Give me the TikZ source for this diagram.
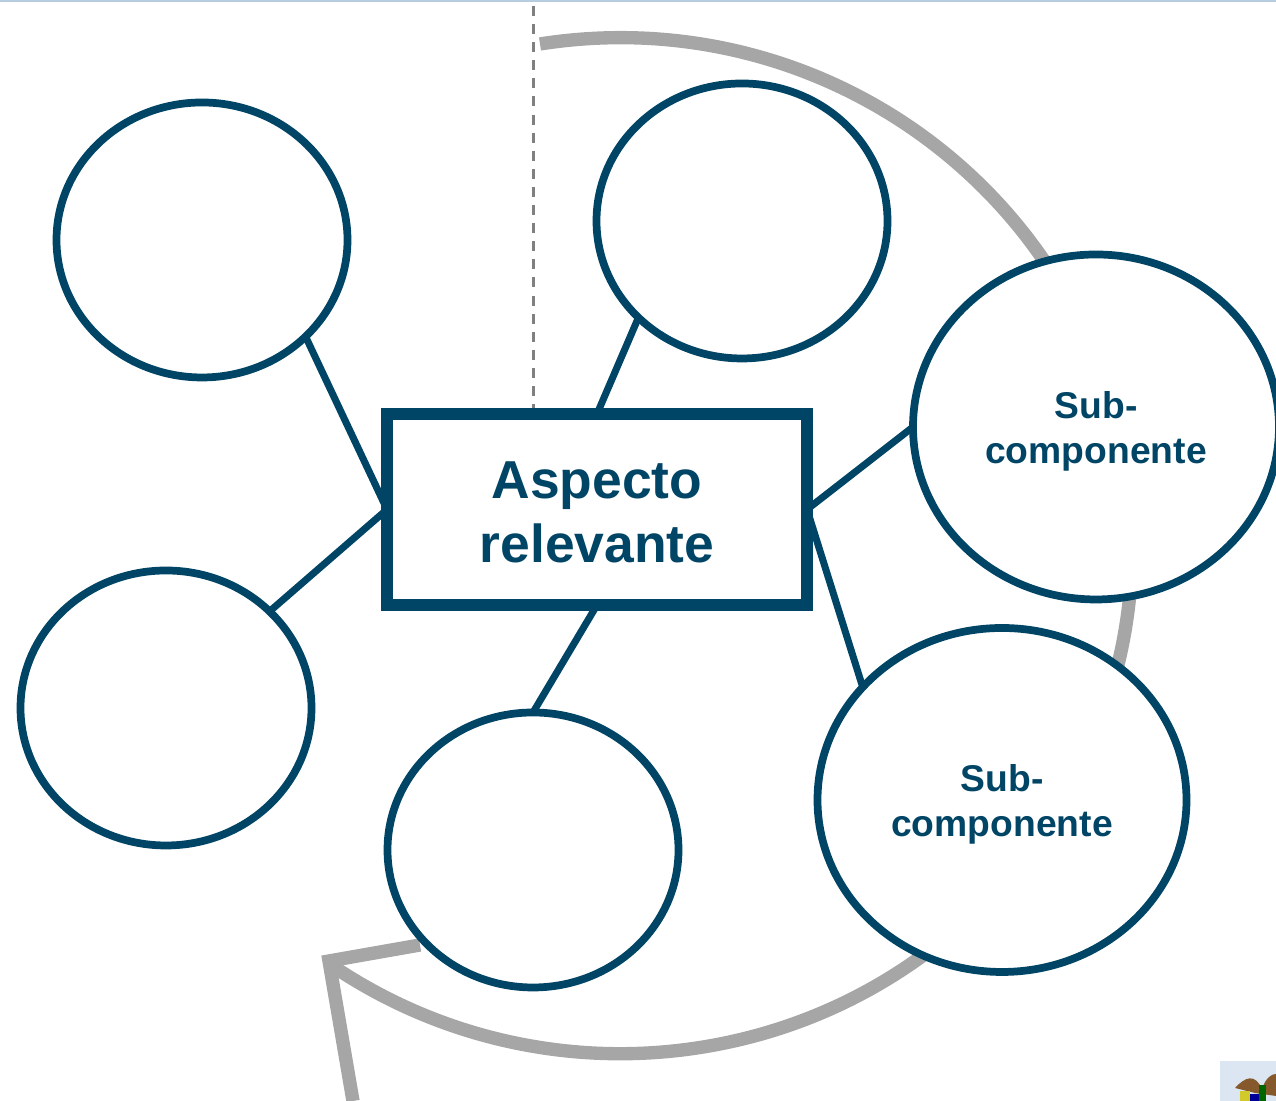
\documentclass[tikz,border=0pt]{standalone}
\usepackage{fontspec}
\setmainfont{Liberation Sans}
\usepackage{tikz}
\usetikzlibrary{shapes.geometric}

\definecolor{petrol}{HTML}{004565}
\definecolor{loopgray}{HTML}{A6A6A6}
\definecolor{rulecolor}{HTML}{B8CCDF}
\definecolor{crestblue}{HTML}{DCE6F2}

\begin{document}
\begin{tikzpicture}
		\useasboundingbox (0,0) rectangle (12.76,11.01);
		\clip (0,0) rectangle (12.76,11.01);

		% Top rule
		\fill[rulecolor] (0,10.99) rectangle (12.76,11.01);

		% Dashed axis
		\coordinate (axis_top) at (5.33,10.95);
		\coordinate (axis_bottom) at (5.33,6.93);
		\draw[gray, line width=0.85pt, dash pattern=on 2.85pt off 2.3pt] (axis_top) -- (axis_bottom);

		% Loop with its arrowhead
		\coordinate (loop_start) at (5.40,10.57);
		\coordinate (tip) at (3.29,1.40);
		\coordinate (tip_top) at (4.20,1.56);
		\coordinate (tip_bottom) at (3.53,0);
		\draw[loopgray, line width=3.8pt] (loop_start) arc[start angle=99, end angle=-124, x radius=5.12, y radius=5.08];
		\draw[loopgray, line width=3.8pt, miter limit=10] (tip_top) -- (tip) -- (tip_bottom);

		% Crest
		\fill[crestblue] (12.20,0) rectangle (12.76,0.40);
		\fill[brown!70!black] (12.35,0.13) .. controls (12.45,0.24) and (12.55,0.28) .. (12.62,0.12) .. controls (12.66,0.24) and (12.72,0.27) .. (12.76,0.27) -- (12.76,0.05) -- (12.55,0.08) -- cycle;
		\fill[green!40!black] (12.59,0) rectangle (12.66,0.16);
		\fill[yellow!80!black] (12.40,0) rectangle (12.50,0.10);
		\fill[blue!60!black] (12.50,0) rectangle (12.59,0.07);

		\begin{scope}[every node/.style={ellipse,draw=petrol,fill=white,line width=2.2pt,inner sep=0pt,outer sep=0pt,minimum width=2.91cm,minimum height=2.75cm,text=petrol,align=center,font=\bfseries\fontsize{10.6}{12.8}\selectfont}]
			% Empty sub-components
			\node (upper_left) at (2.02,8.61) {};
			\node (upper_middle) at (7.42,8.80) {};
			\node (lower_middle) at (5.33,2.51) {};
			\node (lower_left) at (1.66,3.93) {};

			% Labelled sub-components
			\node[minimum width=3.66cm,minimum height=3.45cm] (upper_right) at (10.96,6.74) {\rule{0pt}{10pt}Sub-\\componente};
			\node[minimum width=3.69cm,minimum height=3.44cm] (lower_right) at (10.02,3.01) {\rule{0pt}{10pt}Sub-\\componente};
		\end{scope}

		% Centre
		\node[draw=petrol,fill=white,line width=3.4pt,outer sep=0pt,minimum width=4.20cm,minimum height=1.91cm,text=petrol,align=center,font=\bfseries\fontsize{15.2}{18.2}\selectfont] (aspect) at (5.97,5.915) {\rule{0pt}{12pt}Aspecto\\relevante};

		% Spokes
		\begin{scope}[petrol, line width=2pt]
			\draw (aspect.west) -- (upper_left.-43);
			\draw (aspect.west) -- (lower_left.43.6);
			\draw (aspect.north) -- (upper_middle.223.6);
			\draw (aspect.south) -- (lower_middle.90);
			\draw (aspect.east) -- (upper_right.180);
			\draw (aspect.east) -- (lower_right.141);
		\end{scope}
	\end{tikzpicture}
\end{document}
